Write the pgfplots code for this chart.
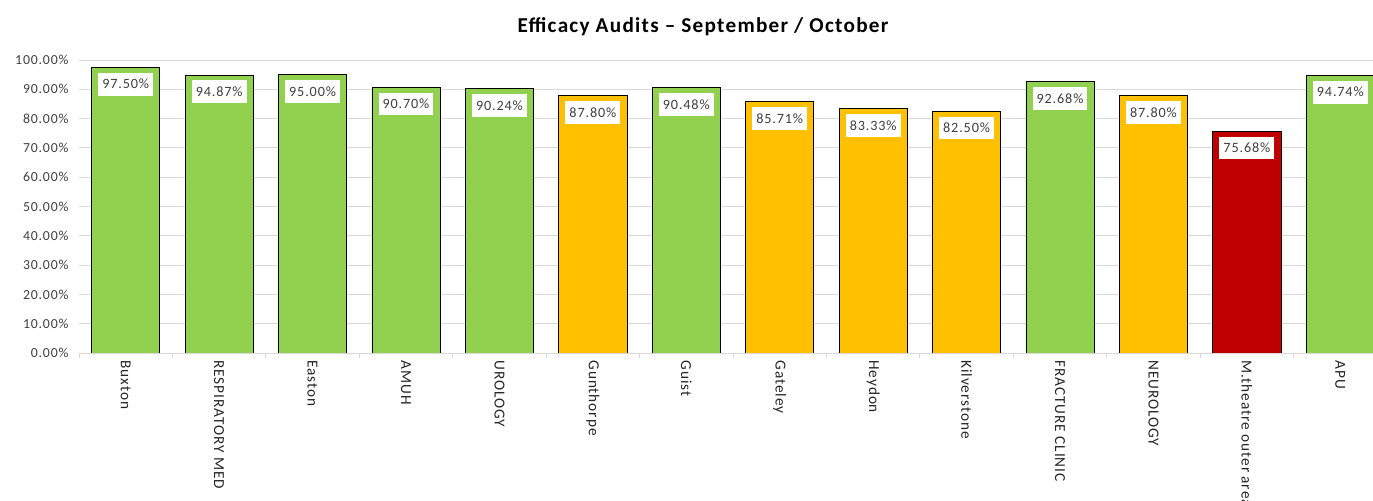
\documentclass[border=0pt]{standalone}
\usepackage{pgfplots}
\pgfplotsset{compat=1.18}
\usepackage{fontspec}
\setmainfont{Carlito}[LetterSpace=6]
\definecolor{cgreen}{HTML}{92D050}
\definecolor{corange}{HTML}{FFC000}
\definecolor{cred}{HTML}{C00000}
\definecolor{tickgray}{HTML}{404040}
\definecolor{gridgray}{HTML}{D9D9D9}
\begin{document}
\begin{tikzpicture}[x=1bp,y=1bp]
\path[use as bounding box] (0,0) rectangle (1373,501);
\node[font=\fontsize{21.2bp}{24bp}\selectfont\bfseries, text=black] at (703,474) {Efficacy Audits – September / October};
\begin{axis}[
  at={(79bp,148bp)}, anchor=south west,
  scale only axis, width=1308bp, height=293bp,
  xmin=-0.5, xmax=13.5, ymin=0, ymax=100,
  /pgf/number format/assume math mode=true,
  axis x line*=bottom, axis y line*=left,
  x axis line style={draw=gridgray, line width=0.8bp, -},
  y axis line style={draw=none},
  ymajorgrids, grid style={draw=gridgray, line width=0.8bp},
  ytick={0,10,...,100},
  yticklabel={\pgfmathprintnumber[fixed,fixed zerofill,precision=2]{\tick}\%},
  yticklabel style={font=\fontsize{13.8bp}{16bp}\selectfont, text=tickgray, xshift=-7bp},
  xtick={0,...,13},
  xticklabels={Buxton,RESPIRATORY MED,Easton,AMUH,UROLOGY,Gunthorpe,Guist,Gateley,Heydon,Kilverstone,FRACTURE CLINIC,NEUROLOGY,M.theatre outer areas,APU},
  xticklabel style={rotate=-90, anchor=west, font=\fontsize{15.3bp}{18bp}\selectfont, text=black!85, xshift=4bp},
  minor xtick={-0.5,0.5,...,13.5},
  major tick length=0pt, minor tick length=5bp,
  tick align=outside,
  minor tick style={draw=gridgray, line width=0.8bp},
  major tick style={draw=none},
  ybar, bar width=0.73, bar shift=0pt,
  nodes near coords={\pgfmathprintnumber[fixed,fixed zerofill,precision=2]{\pgfplotspointmeta}\%},
  nodes near coords style={fill=white, anchor=north, yshift=-5bp, inner xsep=4bp, inner ysep=6.5bp,
     font=\fontsize{14.2bp}{16bp}\selectfont, text=tickgray},
  every axis plot/.append style={draw=black, line width=0.8bp},
]
\addplot[fill=cgreen] coordinates {(0,97.50) (1,94.87) (2,95.00) (3,90.70) (4,90.24) (6,90.48) (10,92.68) (13,94.74)};
\addplot[fill=corange] coordinates {(5,87.80) (7,85.71) (8,83.33) (9,82.50) (11,87.80)};
\addplot[fill=cred] coordinates {(12,75.68)};
\end{axis}
\end{tikzpicture}
\end{document}
